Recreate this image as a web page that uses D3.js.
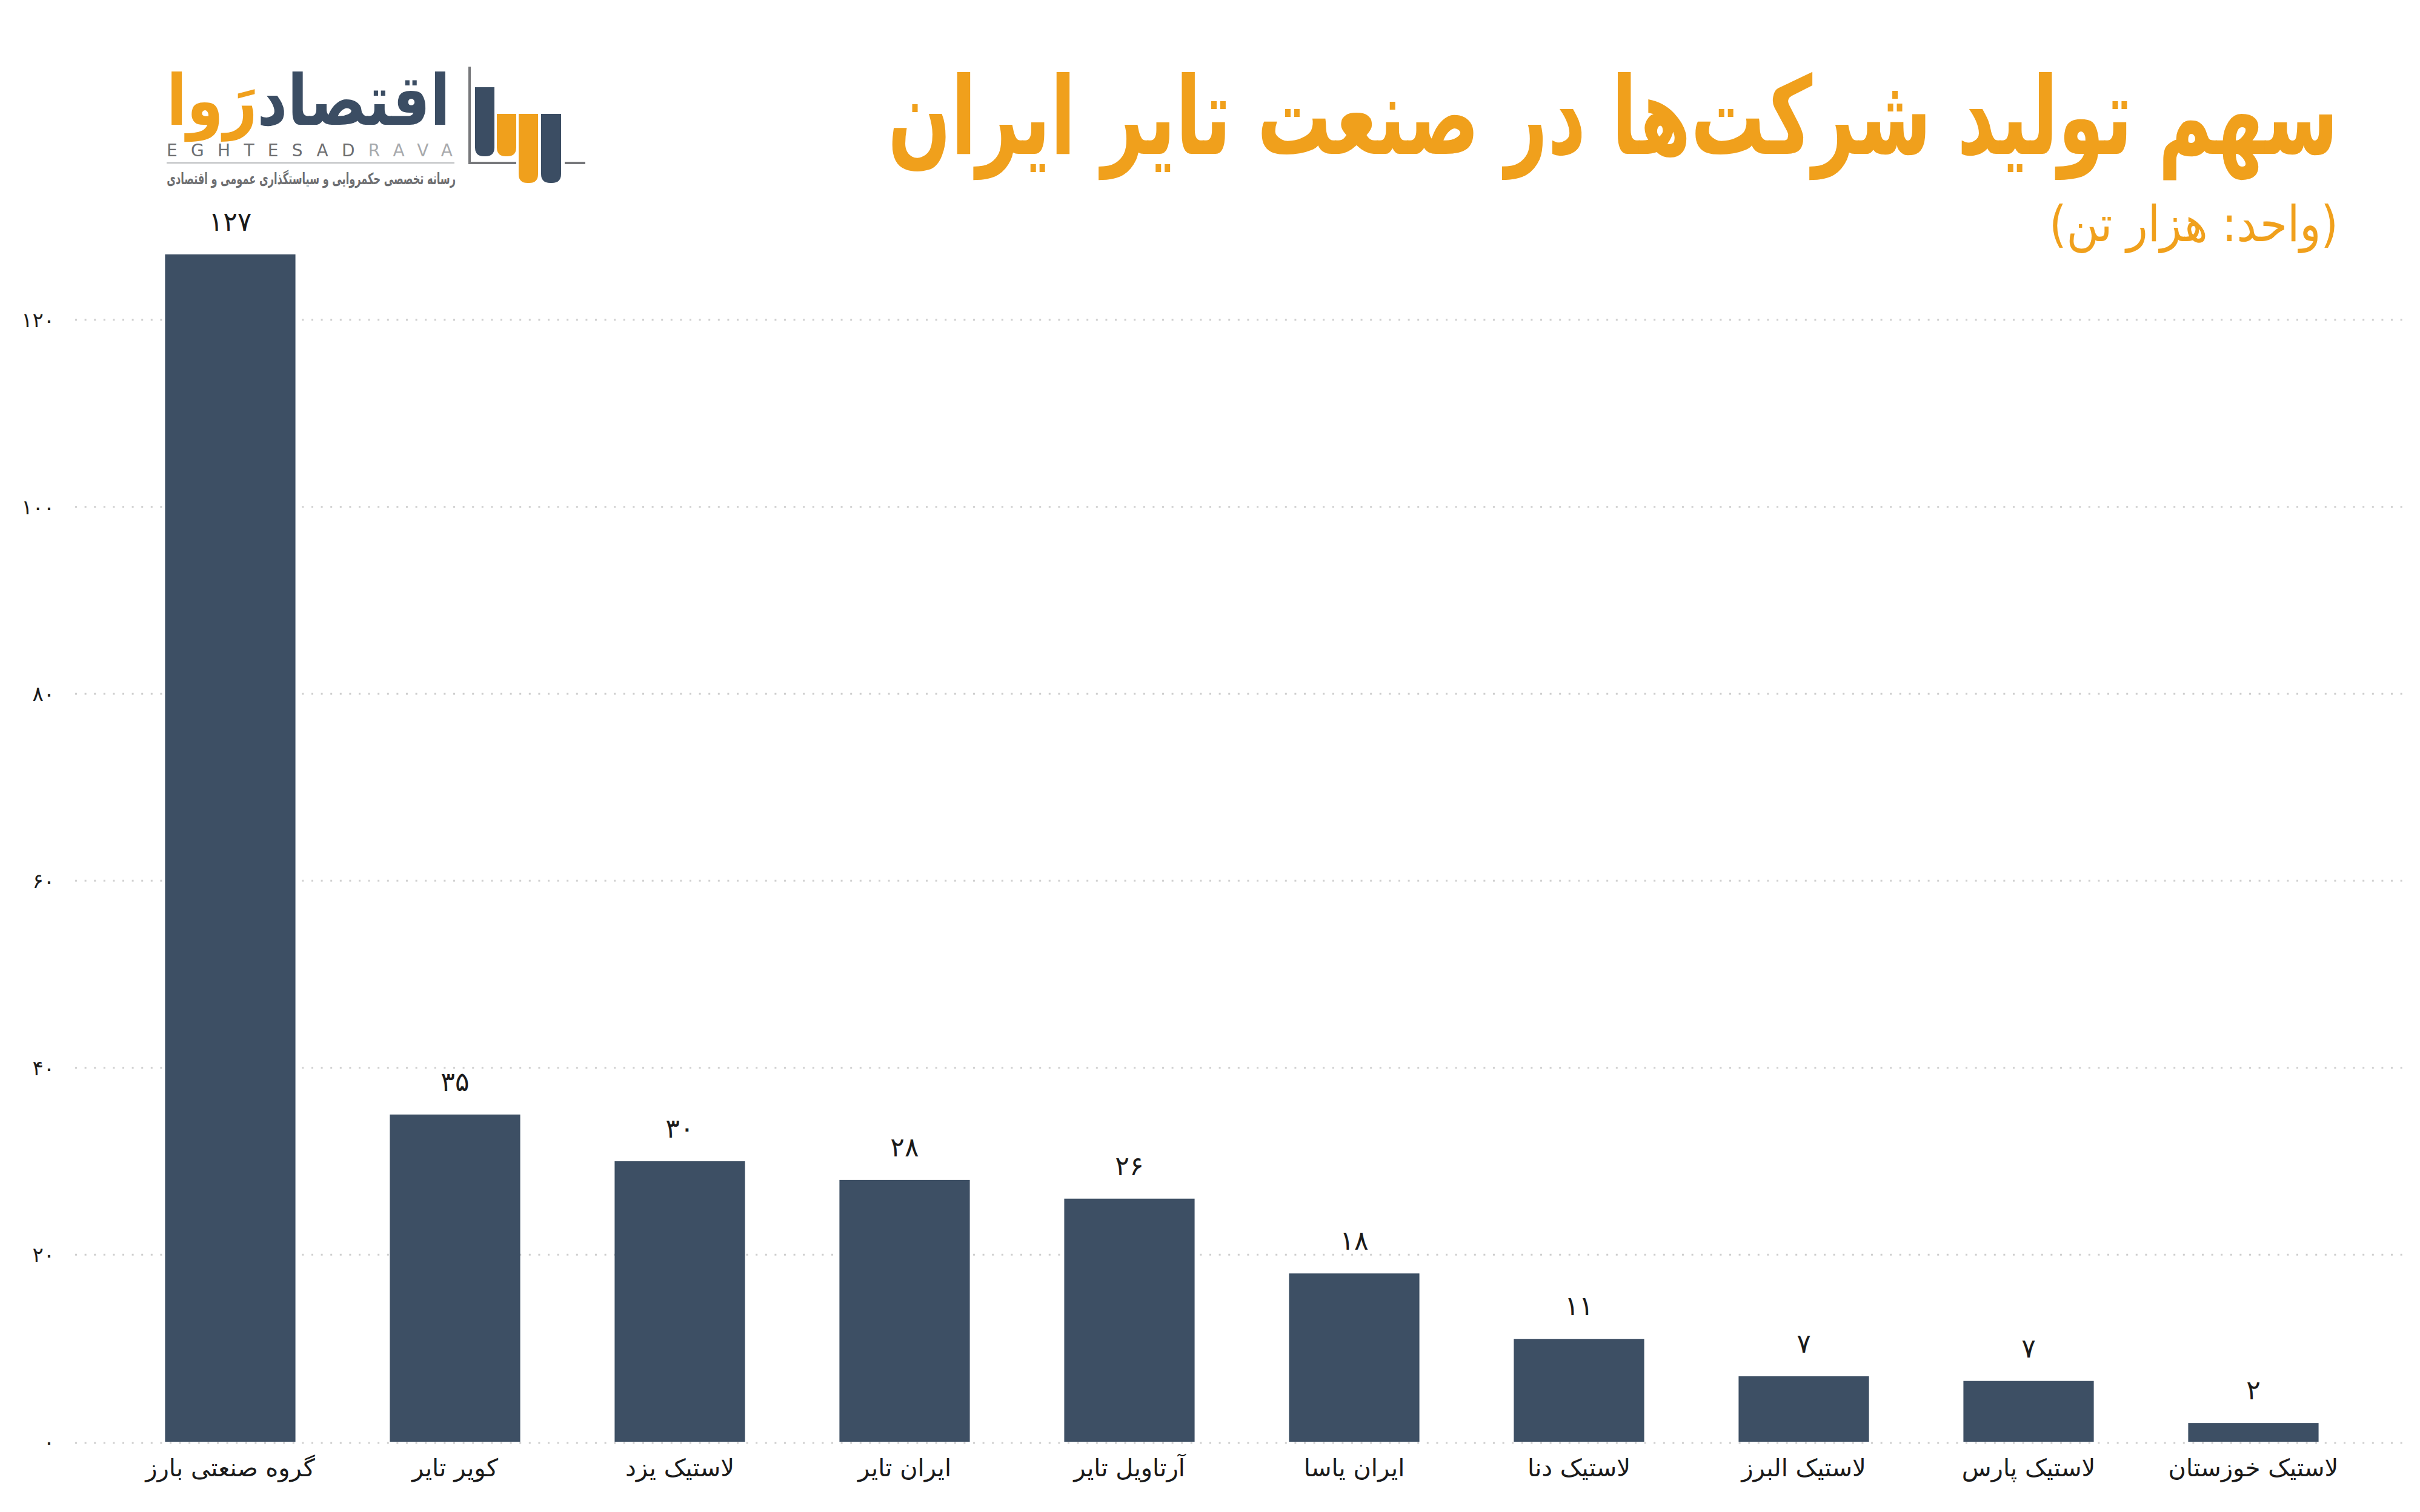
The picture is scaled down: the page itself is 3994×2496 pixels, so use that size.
<!DOCTYPE html>
<html>
<head>
<meta charset="utf-8">
<title>tire-share</title>
<script src="https://d3js.org/d3.v7.min.js"></script>
<style>
  body { margin: 0; background: #fff; }
  text { font-family: "DejaVu Sans", sans-serif; }
</style>
</head>
<body>
<div id="chart"></div>
<script>
/* chart data */
var companies = ["گروه صنعتی بارز", "کویر تایر", "لاستیک یزد", "ایران تایر", "آرتاویل تایر",
                 "ایران یاسا", "لاستیک دنا", "لاستیک البرز", "لاستیک پارس", "لاستیک خوزستان"];
var production = [127, 35, 30, 28, 26, 18, 11, 7, 6.5, 2];   // thousand tonnes
var y_ticks = [0, 20, 40, 60, 80, 100, 120];
var title_text = "سهم تولید شرکت‌ها در صنعت تایر ایران";
var subtitle_text = "(واحد: هزار تن)";
var logo_word_dark = "اقتصاد", logo_word_orange = "رَوا";
var logo_latin_dark = "EGHTESAD", logo_latin_light = "RAVA";
var logo_tagline = "رسانه تخصصی حکمروایی و سیاستگذاری عمومی و اقتصادی";

/* layout */
var total_width = 3994, total_height = 2496,
    plot = {left: 124, right: 3975, top: 528, bottom: 2380},
    bar_color = "#3d4f64",
    orange = "#f0a01c",
    grey = "#6d6e71";

var fa_digits = "۰۱۲۳۴۵۶۷۸۹";
function to_fa(n) {
    return String(n).replace(/[0-9]/g, function(d){ return fa_digits[+d]; });
}

/* squeeze a right-anchored text horizontally so it spans `width` px */
function fit_text(sel, x_right, y_base, width) {
    var w = sel.node().getComputedTextLength();
    sel.attr("x", 0).attr("y", 0)
       .attr("transform", "translate(" + x_right + "," + y_base + ") scale(" + (width / w) + ",1)");
}

var svg = d3.select("#chart").append("svg")
    .attr("width", total_width)
    .attr("height", total_height)
    .style("display", "block");

/* scales */
var x = d3.scaleBand()
    .domain(companies)
    .range([plot.left, plot.right])
    .paddingInner(0.42)
    .paddingOuter(0.4);
var y = d3.scaleLinear()
    .domain([0, 120])
    .range([plot.bottom, plot.top]);

/* dotted grid */
svg.append("g").selectAll("line")
    .data(y_ticks)
    .enter().append("line")
    .attr("x1", plot.left)
    .attr("x2", plot.right)
    .attr("y1", function(d){ return y(d) + (d === 0 ? 2 : 0); })
    .attr("y2", function(d){ return y(d) + (d === 0 ? 2 : 0); })
    .attr("stroke", "#cfcfcf")
    .attr("stroke-width", 3)
    .attr("stroke-dasharray", "3 12.6");

/* y axis labels */
svg.append("g").selectAll("text")
    .data(y_ticks)
    .enter().append("text")
    .attr("x", 90)
    .attr("y", function(d){ return y(d); })
    .attr("dy", "0.35em")
    .attr("text-anchor", "end")
    .attr("font-size", 34)
    .attr("fill", "#1a1a1a")
    .text(function(d){ return to_fa(d); });

/* bars */
svg.append("g").selectAll("rect")
    .data(production)
    .enter().append("rect")
    .attr("x", function(d, i){ return x(companies[i]); })
    .attr("y", function(d){ return y(d); })
    .attr("width", x.bandwidth())
    .attr("height", function(d){ return y(0) - y(d); })
    .attr("fill", bar_color);

/* value labels */
svg.append("g").selectAll("text")
    .data(production)
    .enter().append("text")
    .attr("x", function(d, i){ return x(companies[i]) + x.bandwidth() / 2; })
    .attr("y", function(d){ return y(d) - 39; })
    .attr("text-anchor", "middle")
    .attr("font-size", 44)
    .attr("fill", "#1a1a1a")
    .text(function(d){ return to_fa(d.toFixed(0)); });

/* category labels */
svg.append("g").selectAll("text")
    .data(companies)
    .enter().append("text")
    .attr("x", function(d){ return x(d) + x.bandwidth() / 2; })
    .attr("y", 2437)
    .attr("text-anchor", "middle")
    .attr("font-size", 40)
    .attr("fill", "#1a1a1a")
    .text(function(d){ return d; });

/* title + subtitle */
var title = svg.append("text")
    .attr("text-anchor", "end")
    .attr("font-size", 178)
    .attr("font-weight", "bold")
    .attr("fill", orange)
    .text(title_text);
fit_text(title, 3859, 254, 2394);

var subtitle = svg.append("text")
    .attr("text-anchor", "end")
    .attr("font-size", 82)
    .attr("fill", orange)
    .text(subtitle_text);
fit_text(subtitle, 3859, 398, 477);

/* logo */
var logo = svg.append("g");
var word = logo.append("text")
    .attr("text-anchor", "end")
    .attr("font-size", 116)
    .attr("font-weight", "bold");
word.append("tspan").attr("fill", "#3b4d63").text(logo_word_dark);
word.append("tspan").attr("fill", orange).text(logo_word_orange);
fit_text(word, 743, 206, 468);

logo.append("text")
    .attr("x", 275).attr("y", 258)
    .attr("font-family", "Liberation Serif, serif")
    .attr("font-size", 28)
    .attr("textLength", 472)
    .attr("lengthAdjust", "spacing")
    .call(function(t){
        t.append("tspan").attr("fill", grey).text(logo_latin_dark);
        t.append("tspan").attr("fill", "#a7a9ac").text(logo_latin_light);
    });

logo.append("line")
    .attr("x1", 275).attr("x2", 750)
    .attr("y1", 269).attr("y2", 269)
    .attr("stroke", "#bcbec0").attr("stroke-width", 2);

var tagline = logo.append("text")
    .attr("text-anchor", "end")
    .attr("font-size", 26)
    .attr("font-weight", "bold")
    .attr("fill", grey)
    .text(logo_tagline);
fit_text(tagline, 752, 304, 477);

/* logo icon */
function round_bottom_bar(x0, y0, w, y1) {
    var r = w / 2.2;
    return "M" + x0 + "," + y0 + "H" + (x0 + w) + "V" + (y1 - r) +
        "Q" + (x0 + w) + "," + y1 + " " + (x0 + w - r) + "," + y1 +
        "H" + (x0 + r) + "Q" + x0 + "," + y1 + " " + x0 + "," + (y1 - r) + "Z";
}
var icon = logo.append("g");
icon.append("path").attr("d", "M775,110V269H852").attr("fill", "none")
    .attr("stroke", "#77787b").attr("stroke-width", 4);
icon.append("line").attr("x1", 932).attr("x2", 966).attr("y1", 269).attr("y2", 269)
    .attr("stroke", "#77787b").attr("stroke-width", 4);
icon.append("path").attr("d", round_bottom_bar(784, 144, 32, 258)).attr("fill", "#3b4d63");
icon.append("path").attr("d", round_bottom_bar(820, 188, 32, 258)).attr("fill", orange);
icon.append("path").attr("d", round_bottom_bar(856, 188, 32, 302)).attr("fill", orange);
icon.append("path").attr("d", round_bottom_bar(893, 188, 33, 302)).attr("fill", "#3b4d63");
</script>
</body>
</html>
